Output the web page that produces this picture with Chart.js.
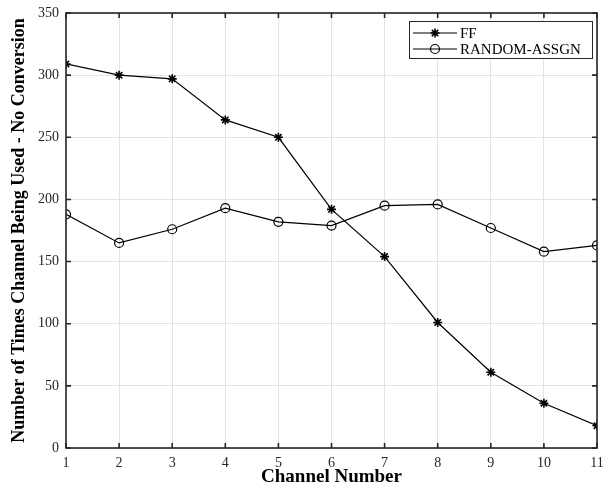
<!DOCTYPE html>
<html>
<head>
<meta charset="utf-8">
<script src="https://cdn.jsdelivr.net/npm/chart.js@4/dist/chart.umd.min.js"></script>
<style>
  html, body { margin: 0; padding: 0; background: #fff; }
  #wrap { width: 605px; height: 491px; }
</style>
</head>
<body>
<div id="wrap"><canvas id="chart" width="605" height="491"></canvas></div>
<script>
// data
const channels = [1, 2, 3, 4, 5, 6, 7, 8, 9, 10, 11];
const ffValues = [309, 300, 297, 264, 250, 192, 154, 101, 61, 36, 18];
const randomValues = [188, 165, 176, 193, 182, 179, 195, 196, 177, 158, 163];
const seriesNames = ["FF", "RANDOM-ASSGN"];
const xTitle = "Channel Number";
const yTitle = "Number of Times Channel Being Used - No Conversion";

const serif = "'Liberation Serif', 'Times New Roman', serif";

// box round the plot with inward tick marks, like the original
const framePlugin = {
  id: "frame",
  afterDatasetsDraw(chart) {
    const { ctx, chartArea: a, scales } = chart;
    ctx.save();
    ctx.strokeStyle = "#262626";
    ctx.lineWidth = 1.6;
    ctx.strokeRect(a.left, a.top, a.right - a.left, a.bottom - a.top);
    ctx.beginPath();
    scales.x.ticks.forEach(t => {
      const px = scales.x.getPixelForValue(t.value);
      ctx.moveTo(px, a.bottom); ctx.lineTo(px, a.bottom - 5);
      ctx.moveTo(px, a.top); ctx.lineTo(px, a.top + 5);
    });
    scales.y.ticks.forEach(t => {
      const py = scales.y.getPixelForValue(t.value);
      ctx.moveTo(a.left, py); ctx.lineTo(a.left + 5, py);
      ctx.moveTo(a.right, py); ctx.lineTo(a.right - 5, py);
    });
    ctx.stroke();
    ctx.restore();
  }
};

// boxed legend in the top right corner
const legendPlugin = {
  id: "boxLegend",
  afterDraw(chart) {
    const { ctx, chartArea: a } = chart;
    const x0 = a.right - 188, y0 = a.top + 8, w = 183, h = 37;
    ctx.save();
    ctx.fillStyle = "#fff";
    ctx.fillRect(x0, y0, w, h);
    ctx.strokeStyle = "#262626";
    ctx.lineWidth = 1;
    ctx.strokeRect(x0 + 0.5, y0 + 0.5, w, h);
    ctx.font = "15px " + serif;
    ctx.textBaseline = "middle";
    chart.data.datasets.forEach((ds, i) => {
      const y = y0 + 12 + i * 16;
      ctx.strokeStyle = "#000";
      ctx.lineWidth = 1.2;
      ctx.beginPath();
      ctx.moveTo(x0 + 4, y); ctx.lineTo(x0 + 48, y);
      ctx.stroke();
      ctx.fillStyle = ds.pointBackgroundColor;
      ctx.lineWidth = ds.pointBorderWidth;
      Chart.helpers.drawPoint(ctx, {
        pointStyle: ds.pointStyle, radius: ds.pointRadius, borderWidth: ds.pointBorderWidth
      }, x0 + 26, y);
      ctx.fillStyle = "#000";
      ctx.fillText(ds.label, x0 + 51, y + 1);
    });
    ctx.restore();
  }
};

const ctx = document.getElementById("chart").getContext("2d");
new Chart(ctx, {
  type: "line",
  data: {
    datasets: [
      {
        label: seriesNames[0],
        data: channels.map((c, i) => ({ x: c, y: ffValues[i] })),
        borderColor: "#000",
        borderWidth: 1.2,
        pointStyle: "star",
        pointRadius: 4.5,
        pointBorderWidth: 1.6,
        pointBorderColor: "#000",
        pointBackgroundColor: "#000",
        tension: 0,
        fill: false
      },
      {
        label: seriesNames[1],
        data: channels.map((c, i) => ({ x: c, y: randomValues[i] })),
        borderColor: "#000",
        borderWidth: 1.2,
        pointStyle: "circle",
        pointRadius: 4.5,
        pointBorderWidth: 1.2,
        pointBorderColor: "#000",
        pointBackgroundColor: "rgba(0,0,0,0)",
        tension: 0,
        fill: false
      }
    ]
  },
  options: {
    responsive: false,
    animation: false,
    layout: { autoPadding: false, padding: { top: 13, right: 8, left: 0, bottom: 0 } },
    plugins: { legend: { display: false }, tooltip: { enabled: false } },
    scales: {
      x: {
        type: "linear",
        min: 1, max: 11,
        afterFit(scale) {
          scale.height = 43;
          scale.paddingLeft = 0; scale.paddingRight = 0;
        },
        ticks: { stepSize: 1, padding: 7, color: "#262626", font: { family: serif, size: 14 }, maxRotation: 0 },
        grid: { color: "#e3e3e3", lineWidth: 1, drawTicks: false },
        border: { display: false },
        title: { display: true, text: xTitle, color: "#000", font: { family: serif, size: 19, weight: "bold" }, padding: { top: 0, bottom: 3 } }
      },
      y: {
        min: 0, max: 350,
        afterFit(scale) {
          scale.width = 66;
          scale.paddingTop = 0; scale.paddingBottom = 0;
        },
        ticks: { stepSize: 50, padding: 7, color: "#262626", font: { family: serif, size: 14 } },
        grid: { color: "#e3e3e3", lineWidth: 1, drawTicks: false },
        border: { display: false },
        title: { display: true, text: yTitle, color: "#000", font: { family: serif, size: 18, weight: "bold" }, padding: { top: 9, bottom: 0 } }
      }
    }
  },
  plugins: [framePlugin, legendPlugin]
});
</script>
</body>
</html>
